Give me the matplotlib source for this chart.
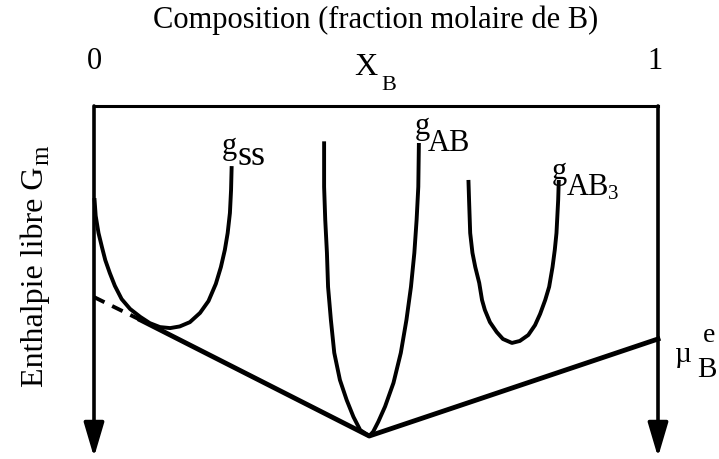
import matplotlib.pyplot as plt

plt.rcParams['font.family'] = 'Liberation Serif'

# free enthalpy curves: composition x_B and G (arbitrary units, 0 at the top)
x_ss = [0.001, 0.003, 0.008, 0.014, 0.020, 0.028, 0.037, 0.049, 0.064, 0.082, 0.099, 0.117,
        0.135, 0.152, 0.170, 0.188, 0.203, 0.216, 0.225, 0.232, 0.237, 0.241, 0.243, 0.244]
g_ss = [-0.285, -0.333, -0.385, -0.427, -0.467, -0.506, -0.545, -0.585, -0.615, -0.639, -0.658, -0.670,
        -0.673, -0.668, -0.655, -0.627, -0.591, -0.539, -0.488, -0.436, -0.385, -0.324, -0.255, -0.188]

x_ab = [0.408, 0.408, 0.410, 0.413, 0.415, 0.420, 0.426, 0.436, 0.448, 0.460, 0.472, 0.488,
        0.495, 0.504, 0.516, 0.531, 0.544, 0.554, 0.562, 0.568, 0.572, 0.575, 0.576]
g_ab = [-0.113, -0.245, -0.345, -0.445, -0.548, -0.648, -0.748, -0.830, -0.891, -0.942, -0.982, -1.000,
        -0.987, -0.957, -0.911, -0.839, -0.748, -0.648, -0.548, -0.445, -0.345, -0.245, -0.118]

x_ab3 = [0.664, 0.665, 0.667, 0.671, 0.676, 0.683, 0.688, 0.693, 0.702, 0.714, 0.725, 0.741,
         0.755, 0.770, 0.782, 0.791, 0.800, 0.807, 0.813, 0.817, 0.820, 0.823, 0.824]
g_ab3 = [-0.230, -0.285, -0.385, -0.445, -0.488, -0.536, -0.588, -0.618, -0.655, -0.685, -0.706, -0.718,
         -0.712, -0.694, -0.664, -0.630, -0.588, -0.548, -0.488, -0.436, -0.385, -0.285, -0.230]

# common tangents
x_tan_dash = [0.0, 0.082]
g_tan_dash = [-0.579, -0.648]
x_tan = [0.082, 0.488, 1.0]
g_tan = [-0.648, -1.000, -0.706]

g_axis_end = -1.064

fig = plt.figure(figsize=(7.19, 4.59), dpi=100)
ax = fig.add_axes([0, 0, 1, 1])
ax.set_xlim(-94 / 564, 625 / 564)
ax.set_ylim(-353 / 330, 106 / 330)
ax.axis('off')

# frame: top composition axis and the two G axes with arrows
ax.plot([0, 1], [0, 0], color='black', lw=2.2, solid_capstyle='projecting')
for xa in (0, 1):
    ax.annotate('', xy=(xa, g_axis_end), xytext=(xa, 0),
                arrowprops=dict(arrowstyle='-|>,head_length=2.1,head_width=0.62',
                                mutation_scale=10, lw=2.6, color='black',
                                shrinkA=0, shrinkB=0))

for xs, gs in ((x_ss, g_ss), (x_ab, g_ab), (x_ab3, g_ab3)):
    ax.plot(xs, gs, color='black', lw=2.8, solid_joinstyle='round')
ax.plot(x_tan_dash, g_tan_dash, color='black', lw=2.8, dashes=(3, 2.2))
ax.plot(x_tan, g_tan, color='black', lw=3.5, solid_joinstyle='round')

fs = 22
ax.text(0.5, 0.26, 'Composition (fraction molaire de B)', fontsize=fs,
        ha='center', va='center')
ax.text(0.0, 0.112, '0', fontsize=fs, ha='center', va='baseline')
ax.text(0.995, 0.112, '1', fontsize=fs, ha='center', va='baseline')
ax.text(0.461, 0.094, 'X', fontsize=23, ha='left', va='baseline')
ax.text(0.509, 0.047, 'B', fontsize=16, ha='left', va='baseline')

# vertical axis label, written bottom to top
ax.text(-0.090, -0.852, 'Enthalpie libre G', fontsize=23, rotation=90,
        rotation_mode='anchor', ha='left', va='baseline')
ax.text(-0.080, -0.180, 'm', fontsize=18, rotation=90,
        rotation_mode='anchor', ha='left', va='baseline')

# curve labels
ax.text(0.227, -0.145, 'g', fontsize=fs, ha='left', va='baseline')
ax.text(0.255, -0.179, 'ss', fontsize=26, ha='left', va='baseline')
ax.text(0.569, -0.085, 'g', fontsize=fs, ha='left', va='baseline')
ax.text(0.592, -0.136, 'AB', fontsize=fs, ha='left', va='baseline')
ax.text(0.812, -0.221, 'g', fontsize=fs, ha='left', va='baseline')
ax.text(0.839, -0.270, 'AB', fontsize=fs, ha='left', va='baseline')
ax.text(0.912, -0.282, '3', fontsize=15, ha='left', va='baseline')
ax.text(1.030, -0.776, '\u00b5', fontsize=21, ha='left', va='baseline')
ax.text(1.080, -0.715, 'e', fontsize=20, ha='left', va='baseline')
ax.text(1.069, -0.821, 'B', fontsize=21, ha='left', va='baseline')

fig.savefig('out.png', dpi=100)
